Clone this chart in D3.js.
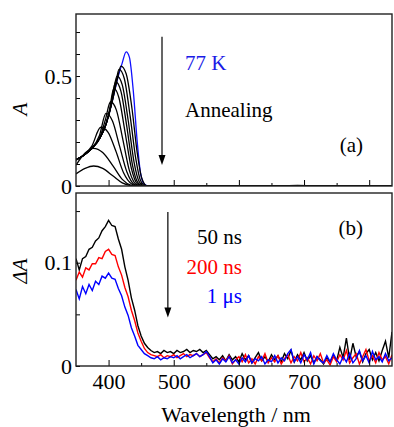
<!DOCTYPE html>
<html>
<head>
<meta charset="utf-8">
<script src="https://cdn.jsdelivr.net/npm/d3@7"></script>
<style>
    body { margin: 0; background: #fff; }
    svg text { font-family: 'Liberation Serif', Tinos, 'Times New Roman', Times, serif !important; fill: #000; }
</style>
</head>
<body>
<div id="chart"></div>
<script>
(function () {
    'use strict';

    // ---- data ----
    // (a) steady-state absorption, 77 K then annealing series: [wavelength nm, A]
    var spec77K = [[350, 0.12], [362, 0.14], [374, 0.17], [386, 0.215], [396, 0.28], [406, 0.39],
        [414, 0.49], [421, 0.56], [427, 0.61], [432, 0.585], [438, 0.43], [444, 0.2], [449, 0.06],
        [455, 0.008], [462, 0], [600, 0], [690, 0.002], [720, 0], [835, 0]];
    var annealing = [
        [[350, 0.12], [362, 0.14], [374, 0.17], [386, 0.215], [396, 0.28], [406, 0.39], [413, 0.48],
            [419, 0.545], [427, 0.51], [436, 0.35], [444, 0.15], [451, 0.035], [459, 0], [650, 0],
            [690, 0.003], [720, 0], [780, 0.002], [835, 0]],
        [[350, 0.12], [362, 0.14], [374, 0.17], [386, 0.215], [396, 0.28], [406, 0.39], [411, 0.465],
            [416, 0.53], [424, 0.49], [433, 0.32], [442, 0.12], [449, 0.025], [457, 0], [835, 0]],
        [[350, 0.12], [362, 0.14], [374, 0.17], [386, 0.215], [396, 0.28], [404, 0.37], [408, 0.44],
            [413, 0.5], [421, 0.46], [430, 0.3], [439, 0.11], [447, 0.02], [455, 0], [835, 0]],
        [[350, 0.12], [362, 0.14], [374, 0.17], [386, 0.215], [396, 0.28], [403, 0.36], [411, 0.474],
            [419, 0.43], [428, 0.27], [437, 0.09], [445, 0.015], [453, 0], [835, 0]],
        [[350, 0.12], [362, 0.14], [374, 0.17], [386, 0.215], [396, 0.28], [401, 0.34], [408, 0.444],
            [416, 0.4], [425, 0.25], [435, 0.08], [444, 0.01], [452, 0], [835, 0]],
        [[350, 0.12], [362, 0.14], [374, 0.17], [386, 0.215], [395, 0.3], [403, 0.383], [412, 0.345],
            [422, 0.21], [432, 0.07], [442, 0.008], [450, 0], [835, 0]],
        [[350, 0.12], [362, 0.14], [374, 0.17], [386, 0.23], [396, 0.33], [406, 0.295], [417, 0.18],
            [428, 0.065], [440, 0.006], [448, 0], [835, 0]],
        [[350, 0.118], [362, 0.14], [374, 0.18], [388, 0.267], [399, 0.245], [411, 0.16], [423, 0.06],
            [436, 0.008], [445, 0], [835, 0]],
        [[350, 0.095], [364, 0.15], [377, 0.171], [391, 0.152], [407, 0.09], [421, 0.03], [434, 0.004],
            [443, 0], [835, 0]],
        [[350, 0.055], [364, 0.08], [377, 0.091], [391, 0.08], [407, 0.045], [421, 0.014], [434, 0.002],
            [443, 0], [835, 0]]
    ];

    // (b) transient absorption, sampled every 5 nm from 350 nm
    var tStart = 350, tStep = 5;
    var dA50ns = [
        0.104, 0.093, 0.104, 0.106, 0.113, 0.115, 0.121, 0.124, 0.131, 0.135,
        0.141, 0.136, 0.135, 0.123, 0.113, 0.096, 0.083, 0.066, 0.054, 0.039,
        0.029, 0.022, 0.018, 0.015, 0.013, 0.014, 0.012, 0.015, 0.013, 0.014,
        0.012, 0.015, 0.013, 0.014, 0.016, 0.013, 0.015, 0.014, 0.016, 0.013,
        0.015, 0.011, 0.007, 0.009, 0.006, 0.010, 0.005, 0.011, 0.006, 0.009,
        0.004, 0.012, 0.006, 0.010, 0.003, 0.008, 0.013, 0.005, 0.009, 0.004,
        0.011, 0.006, 0.010, 0.004, 0.012, 0.007, 0.015, 0.004, 0.011, 0.006,
        0.013, 0.005, 0.010, 0.003, 0.009, 0.006, 0.002, 0.008, 0.004, 0.010,
        0.005, 0.018, 0.008, 0.027, 0.006, 0.022, 0.009, 0.014, 0.004, 0.012,
        0.016, 0.006, 0.013, 0.005, 0.015, 0.024, 0.008, 0.033
    ];
    var dA200ns = [
        0.083, 0.091, 0.086, 0.095, 0.093, 0.099, 0.099, 0.105, 0.104, 0.111,
        0.113, 0.108, 0.107, 0.096, 0.088, 0.076, 0.067, 0.054, 0.044, 0.032,
        0.024, 0.017, 0.013, 0.011, 0.010, 0.009, 0.011, 0.008, 0.010, 0.009,
        0.011, 0.008, 0.010, 0.012, 0.009, 0.011, 0.010, 0.012, 0.009, 0.011,
        0.013, 0.008, 0.004, 0.007, 0.003, 0.008, 0.005, 0.010, 0.002, 0.006,
        0.009, 0.004, 0.011, 0.003, 0.007, 0.002, 0.009, 0.005, 0.012, 0.003,
        0.008, 0.004, 0.010, 0.002, 0.007, 0.011, 0.003, 0.009, 0.005, 0.013,
        0.004, 0.008, 0.002, 0.010, 0.005, 0.012, 0.003, 0.006, 0.001, 0.009,
        0.004, 0.011, 0.006, 0.015, 0.003, 0.008, 0.012, 0.002, 0.009, 0.016,
        0.005, 0.010, 0.003, 0.013, 0.006, 0.009, 0.002, 0.011
    ];
    var dA1us = [
        0.074, 0.065, 0.077, 0.070, 0.079, 0.073, 0.082, 0.079, 0.087, 0.085,
        0.090, 0.085, 0.084, 0.075, 0.068, 0.057, 0.049, 0.037, 0.029, 0.020,
        0.016, 0.012, 0.010, 0.008, 0.007, 0.009, 0.006, 0.008, 0.007, 0.009,
        0.008, 0.010, 0.007, 0.009, 0.011, 0.008, 0.010, 0.012, 0.009, 0.011,
        0.014, 0.009, 0.003, 0.006, 0.002, 0.007, 0.004, 0.009, 0.003, 0.006,
        0.002, 0.008, 0.004, 0.010, 0.003, 0.007, 0.005, 0.009, 0.002, 0.006,
        0.004, 0.010, 0.003, 0.008, 0.005, 0.012, 0.016, 0.004, 0.009, 0.003,
        0.011, 0.006, 0.013, 0.002, 0.009, 0.005, 0.003, 0.010, 0.004, 0.012,
        0.006, 0.002, 0.009, 0.004, 0.012, 0.003, 0.007, 0.015, 0.005, 0.010,
        0.003, 0.014, 0.006, 0.009, 0.004, 0.012, 0.005, 0.008
    ];
    var transient = [
        { label: '50 ns', color: '#000000', values: dA50ns },
        { label: '200 ns', color: '#ff0000', values: dA200ns },
        { label: '1 \u03bcs', color: '#0000ff', values: dA1us }
    ];

    var xMajor = [400, 500, 600, 700, 800],
        xMinor = [450, 550, 650, 750],
        yTicksA = [0, 0.1, 0.2, 0.3, 0.4, 0.5, 0.6, 0.7],
        yLabelsA = [0, 0.5],
        yTicksB = [0, 0.05, 0.1, 0.15],
        yLabelsB = [0, 0.1];

    // ---- layout ----
    var width = 394, height = 427,
        left = 76, right = 392,
        panelA = { top: 14, bottom: 186 },
        panelB = { top: 193, bottom: 366 };

    var svg = d3.select('#chart')
        .append('svg')
        .attr('width', width)
        .attr('height', height);

    var x = d3.scaleLinear().domain([350, 835]).range([left, right]);
    var yA = d3.scaleLinear().domain([0, 0.782]).range([panelA.bottom, panelA.top]);
    var yB = d3.scaleLinear().domain([0, 0.1675]).range([panelB.bottom, panelB.top]);

    var defs = svg.append('defs');
    [['clipA', panelA], ['clipB', panelB]].forEach(function (c) {
        defs.append('clipPath').attr('id', c[0])
            .append('rect')
            .attr('x', left).attr('y', c[1].top)
            .attr('width', right - left).attr('height', c[1].bottom - c[1].top);
    });

    function styleAxis(g) {
        g.select('.domain').remove();
        g.attr('font-family', null);
        g.selectAll('line').attr('stroke', '#000').attr('stroke-width', 1);
        g.selectAll('text').style('font-size', '22px');
    }

    function drawXAxis(yPos, withLabels) {
        svg.append('g')
            .attr('transform', 'translate(0,' + yPos + ')')
            .call(d3.axisBottom(x).tickValues(xMinor).tickSize(-3).tickFormat(''))
            .call(styleAxis);
        svg.append('g')
            .attr('transform', 'translate(0,' + yPos + ')')
            .call(d3.axisBottom(x).tickValues(xMajor).tickSize(-6).tickPadding(7)
                .tickFormat(withLabels ? d3.format('d') : ''))
            .call(styleAxis);
    }

    function drawYAxis(scale, ticks, labels, fmt) {
        svg.append('g')
            .attr('transform', 'translate(' + left + ',0)')
            .call(d3.axisLeft(scale).tickValues(ticks).tickSize(-4).tickPadding(4)
                .tickFormat(function (d) {
                    return labels.some(function (l) { return Math.abs(l - d) < 1e-9; }) ? fmt(d) : '';
                }))
            .call(styleAxis);
    }

    // ---- panel (a) ----
    var lineA = d3.line()
        .x(function (d) { return x(d[0]); })
        .y(function (d) { return yA(d[1]); })
        .curve(d3.curveMonotoneX);

    var gA = svg.append('g').attr('clip-path', 'url(#clipA)');
    gA.append('path')
        .datum(spec77K)
        .attr('d', lineA)
        .attr('fill', 'none')
        .attr('stroke', '#1010ff')
        .attr('stroke-width', 1.3);
    gA.selectAll('path.anneal')
        .data(annealing)
        .enter().append('path')
        .attr('class', 'anneal')
        .attr('d', lineA)
        .attr('fill', 'none')
        .attr('stroke', '#000')
        .attr('stroke-width', 1.3);

    drawXAxis(panelA.bottom, false);
    drawYAxis(yA, yTicksA, yLabelsA, function (d) { return d === 0 ? '0' : d3.format('.1f')(d); });

    // ---- panel (b) ----
    var lineB = d3.line()
        .x(function (d, i) { return x(tStart + i * tStep); })
        .y(function (d) { return yB(d); });

    var gB = svg.append('g').attr('clip-path', 'url(#clipB)');
    gB.selectAll('path')
        .data(transient)
        .enter().append('path')
        .attr('d', function (d) { return lineB(d.values); })
        .attr('fill', 'none')
        .attr('stroke', function (d) { return d.color; })
        .attr('stroke-width', 1.4);

    drawXAxis(panelB.bottom, true);
    drawYAxis(yB, yTicksB, yLabelsB, function (d) { return d === 0 ? '0' : d3.format('.1f')(d); });

    // frames
    [panelA, panelB].forEach(function (p) {
        svg.append('rect')
            .attr('x', left).attr('y', p.top)
            .attr('width', right - left).attr('height', p.bottom - p.top)
            .attr('fill', 'none')
            .attr('stroke', '#222')
            .attr('stroke-width', 1.4);
    });

    // ---- annotations ----
    function arrow(x0, y0, y1) {
        svg.append('line')
            .attr('x1', x0).attr('x2', x0)
            .attr('y1', y0).attr('y2', y1 - 8)
            .attr('stroke', '#000').attr('stroke-width', 1.2);
        svg.append('path')
            .attr('d', 'M' + (x0 - 3.5) + ',' + (y1 - 10) + 'L' + (x0 + 3.5) + ',' + (y1 - 10) +
                'L' + x0 + ',' + y1 + 'Z')
            .attr('fill', '#000');
    }
    arrow(x(482), yA(0.678), yA(0.095));
    arrow(x(491), yB(0.149), yB(0.047));

    function label(tx, ty, text, color, anchor, italic) {
        return svg.append('text')
            .attr('x', tx).attr('y', ty)
            .attr('text-anchor', anchor || 'start')
            .style('font-size', '21px')
            .style('fill', color || '#000')
            .style('font-style', italic ? 'italic' : 'normal')
            .text(text);
    }
    label(185, 70, '77 K', '#1a1ae6');
    label(185, 117, 'Annealing');
    label(363, 152, '(a)', '#000', 'end');
    label(363, 235, '(b)', '#000', 'end');
    transient.forEach(function (d, i) {
        label(242, 244 + i * 29.5, d.label, d.color, 'end');
    });

    // axis titles
    svg.append('text')
        .attr('transform', 'translate(27,109) rotate(-90)')
        .attr('text-anchor', 'middle')
        .style('font-size', '21px')
        .style('font-style', 'italic')
        .text('A');
    svg.append('text')
        .attr('transform', 'translate(27,271) rotate(-90)')
        .attr('text-anchor', 'middle')
        .style('font-size', '21px')
        .style('font-style', 'italic')
        .text('\u0394A');
    svg.append('text')
        .attr('x', 236).attr('y', 422)
        .attr('text-anchor', 'middle')
        .style('font-size', '22px')
        .text('Wavelength / nm');
})();
</script>
</body>
</html>
